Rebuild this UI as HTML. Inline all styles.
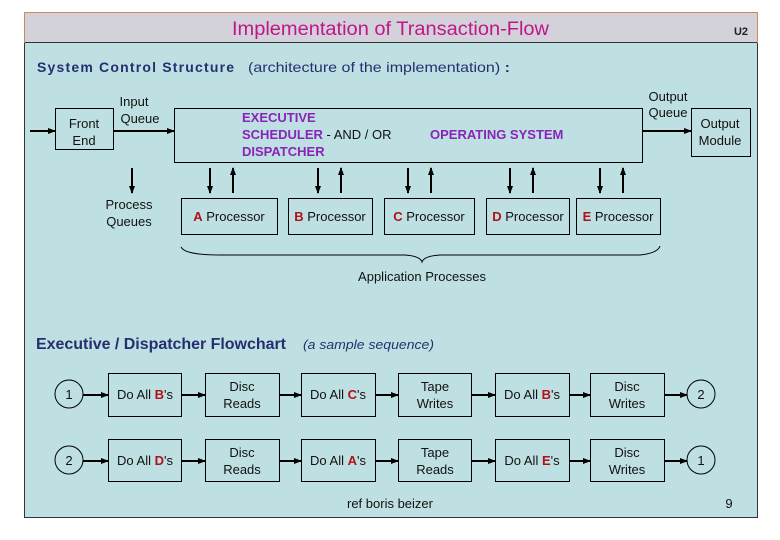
<!DOCTYPE html>
<html><head><meta charset="utf-8"><style>
body{margin:0;background:#fff;}
svg{display:block;font-family:"Liberation Sans",sans-serif;}
</style></head><body>
<svg width="780" height="540" viewBox="0 0 780 540" xmlns="http://www.w3.org/2000/svg">
<defs><marker id="a" markerWidth="8" markerHeight="8" refX="7" refY="4" orient="auto" markerUnits="userSpaceOnUse"><path d="M0,1 L8,4 L0,7 z" fill="#000"/></marker></defs>
<rect x="24.5" y="12.5" width="733" height="505" fill="#bfe0e3" stroke="#333"/>
<rect x="24.5" y="12.5" width="733" height="30" fill="#d3d1da" stroke="#d08a5a"/>
<line x1="25" y1="42.5" x2="757" y2="42.5" stroke="#333"/>
<text x="232" y="35" font-size="19" fill="#c0168a" textLength="317" lengthAdjust="spacingAndGlyphs">Implementation of Transaction-Flow</text>
<text x="741" y="35" font-size="11" font-weight="bold" fill="#222" text-anchor="middle">U2</text>
<text x="37" y="72" font-size="14" font-weight="bold" fill="#24306e" textLength="197" lengthAdjust="spacing">System  Control Structure</text>
<text x="248" y="72" font-size="14" fill="#24306e" textLength="262" lengthAdjust="spacingAndGlyphs">(architecture of the implementation) <tspan font-weight="bold">:</tspan></text>
<g stroke="#000" fill="none" stroke-width="1">
<rect x="55.5" y="108.5" width="58" height="41"/>
<rect x="174.5" y="108.5" width="468" height="54"/>
<rect x="691.5" y="108.5" width="59" height="48"/>
<rect x="181.5" y="198.5" width="96" height="36"/>
<rect x="288.5" y="198.5" width="84" height="36"/>
<rect x="384.5" y="198.5" width="90" height="36"/>
<rect x="486.5" y="198.5" width="83" height="36"/>
<rect x="576.5" y="198.5" width="84" height="36"/>
</g>
<g stroke="#000" stroke-width="2" marker-end="url(#a)">
<line x1="30" y1="131" x2="55" y2="131"/>
<line x1="114" y1="131" x2="174" y2="131"/>
<line x1="643" y1="131" x2="691" y2="131"/>
<line x1="132" y1="168" x2="132" y2="193"/>
<line x1="210" y1="168" x2="210" y2="193"/><line x1="233" y1="193" x2="233" y2="168"/>
<line x1="318" y1="168" x2="318" y2="193"/><line x1="341" y1="193" x2="341" y2="168"/>
<line x1="408" y1="168" x2="408" y2="193"/><line x1="431" y1="193" x2="431" y2="168"/>
<line x1="510" y1="168" x2="510" y2="193"/><line x1="533" y1="193" x2="533" y2="168"/>
<line x1="600" y1="168" x2="600" y2="193"/><line x1="623" y1="193" x2="623" y2="168"/>
</g>
<path d="M181,247 Q185,255 220,255 L405,255 Q420,256 422,262 Q424,256 440,255 L640,255 Q658,253 660,246" stroke="#000" fill="none"/>
<g font-size="13" fill="#111" text-anchor="middle">
<text x="84" y="128">Front</text><text x="84" y="145">End</text>
<text x="134" y="106">Input</text><text x="140" y="123">Queue</text>
<text x="668" y="101">Output</text><text x="668" y="117">Queue</text>
<text x="720" y="128">Output</text><text x="720" y="145">Module</text>
<text x="129" y="209">Process</text><text x="129" y="226">Queues</text>
<text x="422" y="281">Application Processes</text>
<text x="390" y="508">ref boris beizer</text>
<text x="729" y="508">9</text>
</g>
<g font-size="13" font-weight="bold" fill="#8a23b8">
<text x="242" y="122">EXECUTIVE</text>
<text x="242" y="139">SCHEDULER <tspan font-weight="normal" fill="#111"> -   AND / OR </tspan></text>
<text x="242" y="156">DISPATCHER</text>
<text x="430" y="139">OPERATING SYSTEM</text>
</g>
<g font-size="13" fill="#111" text-anchor="middle">
<text x="229" y="221"><tspan fill="#b0101a" font-weight="bold">A</tspan> Processor</text>
<text x="330" y="221"><tspan fill="#b0101a" font-weight="bold">B</tspan> Processor</text>
<text x="429" y="221"><tspan fill="#b0101a" font-weight="bold">C</tspan> Processor</text>
<text x="528" y="221"><tspan fill="#b0101a" font-weight="bold">D</tspan> Processor</text>
<text x="618" y="221"><tspan fill="#b0101a" font-weight="bold">E</tspan> Processor</text>
</g>
<text x="36" y="349" font-size="16" font-weight="bold" fill="#24306e" textLength="250" lengthAdjust="spacing">Executive / Dispatcher Flowchart</text>
<text x="303" y="349" font-size="13" font-style="italic" fill="#24306e" textLength="131" lengthAdjust="spacingAndGlyphs">(a sample sequence)</text>
<g stroke="#000" fill="none">
<circle cx="69" cy="394" r="14"/><circle cx="701" cy="394" r="14"/>
<circle cx="69" cy="460" r="14"/><circle cx="701" cy="460" r="14"/>
<rect x="108.5" y="373.5" width="73" height="43"/><rect x="205.5" y="373.5" width="74" height="43"/><rect x="301.5" y="373.5" width="74" height="43"/><rect x="398.5" y="373.5" width="73" height="43"/><rect x="495.5" y="373.5" width="74" height="43"/><rect x="590.5" y="373.5" width="74" height="43"/>
<rect x="108.5" y="439.5" width="73" height="42"/><rect x="205.5" y="439.5" width="74" height="42"/><rect x="301.5" y="439.5" width="74" height="42"/><rect x="398.5" y="439.5" width="73" height="42"/><rect x="495.5" y="439.5" width="74" height="42"/><rect x="590.5" y="439.5" width="74" height="42"/>
</g>
<g stroke="#000" stroke-width="2" marker-end="url(#a)">
<line x1="83" y1="395" x2="108" y2="395"/><line x1="182" y1="395" x2="205" y2="395"/><line x1="280" y1="395" x2="301" y2="395"/><line x1="376" y1="395" x2="398" y2="395"/><line x1="472" y1="395" x2="495" y2="395"/><line x1="570" y1="395" x2="590" y2="395"/><line x1="665" y1="395" x2="687" y2="395"/>
<line x1="83" y1="461" x2="108" y2="461"/><line x1="182" y1="461" x2="205" y2="461"/><line x1="280" y1="461" x2="301" y2="461"/><line x1="376" y1="461" x2="398" y2="461"/><line x1="472" y1="461" x2="495" y2="461"/><line x1="570" y1="461" x2="590" y2="461"/><line x1="665" y1="461" x2="687" y2="461"/>
</g>
<g font-size="13" fill="#111" text-anchor="middle">
<text x="69" y="399">1</text><text x="701" y="399">2</text><text x="69" y="465">2</text><text x="701" y="465">1</text>
<text x="145" y="399">Do All <tspan fill="#b0101a" font-weight="bold">B</tspan>'s</text>
<text x="242" y="391">Disc</text><text x="242" y="408">Reads</text>
<text x="338" y="399">Do All <tspan fill="#b0101a" font-weight="bold">C</tspan>'s</text>
<text x="435" y="391">Tape</text><text x="435" y="408">Writes</text>
<text x="532" y="399">Do All <tspan fill="#b0101a" font-weight="bold">B</tspan>'s</text>
<text x="627" y="391">Disc</text><text x="627" y="408">Writes</text>
<text x="145" y="465">Do All <tspan fill="#b0101a" font-weight="bold">D</tspan>'s</text>
<text x="242" y="457">Disc</text><text x="242" y="474">Reads</text>
<text x="338" y="465">Do All <tspan fill="#b0101a" font-weight="bold">A</tspan>'s</text>
<text x="435" y="457">Tape</text><text x="435" y="474">Reads</text>
<text x="532" y="465">Do All <tspan fill="#b0101a" font-weight="bold">E</tspan>'s</text>
<text x="627" y="457">Disc</text><text x="627" y="474">Writes</text>
</g>
</svg>
</body></html>
